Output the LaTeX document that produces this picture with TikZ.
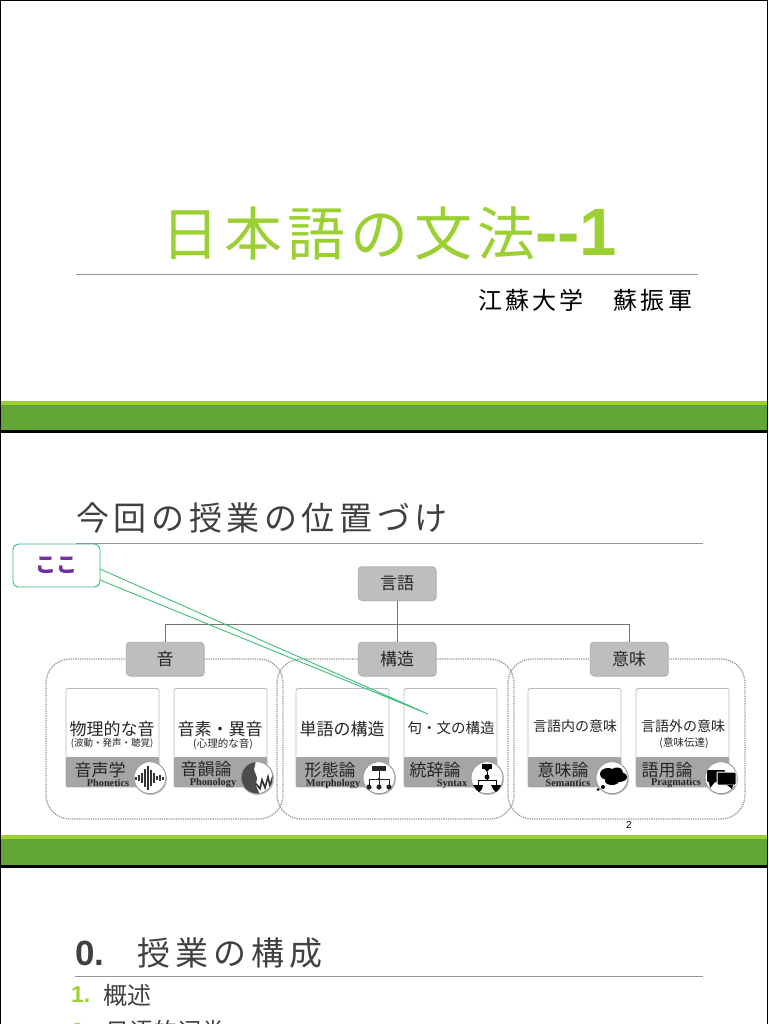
\documentclass[tikz,border=0pt]{standalone}
\usepackage{fontspec}
\setmainfont{Liberation Serif}
\setsansfont{Liberation Sans}
\newfontfamily\cjk{Noto Sans CJK JP}
\usetikzlibrary{shadows}
\definecolor{leafgreen}{RGB}{155,208,50}
\definecolor{bandgreen}{RGB}{98,165,55}
\definecolor{slidegray}{RGB}{64,64,64}
\definecolor{boxgray}{RGB}{190,190,190}
\definecolor{bargray}{RGB}{165,165,165}
\definecolor{callgreen}{RGB}{60,190,120}
\definecolor{callpurple}{RGB}{112,48,160}
\tikzset{
    jp/.style={font=\cjk\fontsize{#1}{#1}\selectfont, inner sep=0pt, text=black!85},
    latin/.style={font=\bfseries\fontsize{10.3}{10.3}\selectfont, inner sep=0pt, text=black!85},
    catbox/.style={draw=gray!80, fill=boxgray, rounded corners=4pt, minimum width=78pt,
        minimum height=34pt, inner sep=0pt, font=\cjk\fontsize{17}{17}\selectfont,
        text=black!85, drop shadow={shadow xshift=0.8pt, shadow yshift=-0.8pt, fill=gray!70}},
    groupbox/.style={draw=gray!80, line width=1.3pt, densely dotted, rounded corners=24pt},
    cardtop/.style={draw=gray!55, fill=white, line width=0.8pt, rounded corners=2pt},
    cardbar/.style={fill=bargray},
    ring/.style={draw=gray!80, fill=white, line width=0.9pt},
    link/.style={draw=black!55, line width=1pt},
    rule/.style={draw=gray!85, line width=1pt}
}
\begin{document}
\begin{tikzpicture}[x=1pt, y=-1pt]
    \useasboundingbox (0,0) rectangle (768,1024);
    \clip (0,0) rectangle (768,1024);
    % ===== Slide frames =====
    \foreach \yB/\yE in {401/430, 835/865} {
        \fill[leafgreen] (0,\yB) rectangle (768,\yB+4);
        \fill[bandgreen] (0,\yB+4) rectangle (768,\yE);
        \fill[black] (0,\yE) rectangle (768,\yE+3);
    }
    \fill[black] (0,0) rectangle (1.2,1024);
    \fill[black] (766.8,0) rectangle (768,1024);
    \fill[black] (0,0) rectangle (768,1);

    % ===== Slide 1 =====
    \draw[rule] (76,274.5) -- (698,274.5);
    \node[jp=58, text=leafgreen, anchor=west] (titlemain) at (161,234)
        {\addfontfeature{LetterSpace=9}日本語の文法{\sffamily\bfseries\fontsize{67}{67}\selectfont -{}-1}};
    \node[jp=24, text=black, anchor=west] (author) at (478,300)
        {\addfontfeature{LetterSpace=13}江蘇大学　蘇振軍};

    % ===== Slide 2 =====
    \node[jp=33, text=slidegray, anchor=west] (placetitle) at (76,518)
        {\addfontfeature{LetterSpace=14}今回の授業の位置づけ};
    \draw[rule] (76,543) -- (703,543);

    \draw[groupbox] (46,659) rectangle (283,819);
    \draw[groupbox] (277,659) rectangle (514,819);
    \draw[groupbox] (508,659) rectangle (745,819);

    \node[catbox] (gengo) at (397,583.5) {言語};
    \node[catbox] (oto) at (165,659) {音};
    \node[catbox] (kozo) at (397,659) {構造};
    \node[catbox] (imi) at (629,659) {意味};
    \draw[link] (gengo) -- (kozo);
    \draw[link] (oto.north) -- ++(0,-17.5) -| (imi.north);

    % cards: white top, gray bar, round icon
    \foreach \xL in {66, 174, 296, 404, 528, 636} {
        \draw[cardtop] (\xL,688.5) rectangle (\xL+93,787);
        \fill[cardbar, rounded corners=1pt] (\xL,757) rectangle (\xL+93,787);
    }

    \node[jp=17] (butsuri) at (112,729) {物理的な音};
    \node[jp=9.5] (hado) at (112,743.5) {(波動・発声・聴覚)};
    \node[jp=17] (onso) at (220,729) {音素・異音};
    \node[jp=10.5] (shinri) at (223,744) {(心理的な音)};
    \node[jp=17] (tango) at (342,729) {単語の構造};
    \node[jp=14.5] (ku) at (451,728) {句・文の構造};
    \node[jp=14] (naibu) at (575,726) {言語内の意味};
    \node[jp=14] (gaibu) at (683,726) {言語外の意味};
    \node[jp=10.5] (dentatsu) at (684,743.5) {(意味伝達)};

    \node[jp=17] (onsei) at (100,770) {音声学};
    \node[latin] (phonetics) at (108,782.5) {Phonetics};
    \node[jp=17] (oninron) at (206,769) {音韻論};
    \node[latin] (phonology) at (213,783) {Phonology};
    \node[jp=17] (keitai) at (330,770) {形態論};
    \node[latin] (morphology) at (333,784) {Morphology};
    \node[jp=17] (tojiron) at (435,770) {統辞論};
    \node[latin] (syntax) at (452,784) {Syntax};
    \node[jp=17] (imiron) at (563,770) {意味論};
    \node[latin] (semantics) at (568,783) {Semantics};
    \node[jp=17] (goyoron) at (667,770) {語用論};
    \node[latin] (pragmatics) at (676,783) {Pragmatics};

    \foreach \xC in {150, 257, 379, 487, 612, 721} {
        \fill[gray!45] (\xC+0.8,778.8) circle (16.2);
        \draw[ring] (\xC,777.7) circle (16);
    }

    % waveform
    \begin{scope}[shift={(150,778)}, line width=1.1pt, black!80]
        \foreach \xO/\yH in {-14/1.5, -11/3, -8/5, -5/9, -2/12, 1/8, 4/5, 7/2, 10/3, 13/1.5} {
            \draw (\xO,-\yH) -- (\xO,\yH);
        }
    \end{scope}
    % voice print
    \begin{scope}[shift={(257,777.7)}]
        \clip (0,0) circle (15.6);
        \fill[black!70] (-17,-17) -- (-1,-17) -- (-3,-8) -- (0,0) -- (-1,8) -- (3,17) -- (-17,17) -- cycle;
        \draw[black!80, line width=1.6pt] (-1,6) -- (3,11) -- (5,2) -- (8,10) -- (11,-1) -- (13,8) -- (16,-2);
    \end{scope}
    % word tree
    \begin{scope}[shift={(379,779)}, black!85]
        \fill (-7,-13) rectangle (7,-8);
        \draw[line width=0.9pt] (0,-8) -- (0,6) (-10,8) -- (-10,0) -- (10,0) -- (10,8);
        \foreach \xO in {-10, 0, 10} { \fill (\xO,8) circle (2.6); }
        \fill (0,0) circle (1.5);
    \end{scope}
    % sentence tree
    \begin{scope}[shift={(487,778)}, black]
        \fill (-5,-14) rectangle (5,-9);
        \fill (-2.5,-9) -- (2.5,-9) -- (0,-6) -- cycle;
        \fill (0,-1) circle (2.5);
        \draw[line width=1pt] (0,-6) -- (0,2) (-9,7) -- (-9,2) -- (9,2) -- (9,7);
        \fill (-14,7) -- (-4,7) -- (-5,11) -- (-8,14) -- (-11,11) -- cycle;
        \fill (4,7) -- (14,7) -- (12,11) -- (9,14) -- (6,11) -- cycle;
    \end{scope}
    % thought cloud
    \begin{scope}[shift={(612,777)}, black]
        \fill (-4,-3) ellipse (8 and 6);
        \fill (5,-5) ellipse (6 and 4.5);
        \fill (7,0) ellipse (8 and 5);
        \fill (0,4) ellipse (7 and 4);
        \fill (-9,10) circle (2);
        \fill (-14,12.5) circle (1.5);
    \end{scope}
    % speech bubbles
    \begin{scope}[shift={(721,777)}, black]
        \fill[rounded corners=1pt] (-14,-7) rectangle (4,5);
        \fill (-12,5) -- (-6,5) -- (-11,11) -- cycle;
        \draw[white, line width=1pt, fill=black, rounded corners=1pt] (-4,-5) rectangle (15,8);
        \fill (6,8) -- (12,8) -- (11,12) -- cycle;
    \end{scope}

    % callout on top of everything
    \coordinate (tailtop) at (100,569);
    \coordinate (tailbottom) at (100,580);
    \coordinate (tailtip) at (428,714);
    \draw[callgreen, line width=0.9pt] (tailtop) -- (tailtip) -- (tailbottom);
    \node[draw=callgreen, fill=white, line width=0.9pt, rounded corners=6pt, minimum width=87pt,
        minimum height=43pt, inner sep=0pt, font=\cjk\bfseries\fontsize{21}{21}\selectfont,
        text=callpurple] (koko) at (56.5,565.5) {\raisebox{-3pt}{ここ}};

    \node[inner sep=0pt, font=\sffamily\fontsize{10}{10}\selectfont] (pagenum) at (629,825) {2};

    % ===== Slide 3 =====
    \node[jp=33, text=slidegray, anchor=west] (plantitle) at (137,953)
        {\addfontfeature{LetterSpace=15}授業の構成};
    \node[inner sep=0pt, anchor=west, text=slidegray, font=\sffamily\bfseries\fontsize{35}{35}\selectfont] (plannum) at (75,953) {0.};
    \draw[rule] (75,976) -- (703,976);
    \node[inner sep=0pt, anchor=west, text=leafgreen, font=\sffamily\bfseries\fontsize{23}{23}\selectfont] (numone) at (71,995) {1.};
    \node[jp=24, text=slidegray, anchor=west] (gaiyo) at (103,995) {概述};
    \node[inner sep=0pt, anchor=west, text=leafgreen, font=\sffamily\bfseries\fontsize{23}{23}\selectfont] (numtwo) at (71,1031) {2.};
    \node[jp=24, text=slidegray, anchor=west] (hinshi) at (105,1031) {日语的词类};
\end{tikzpicture}
\end{document}
